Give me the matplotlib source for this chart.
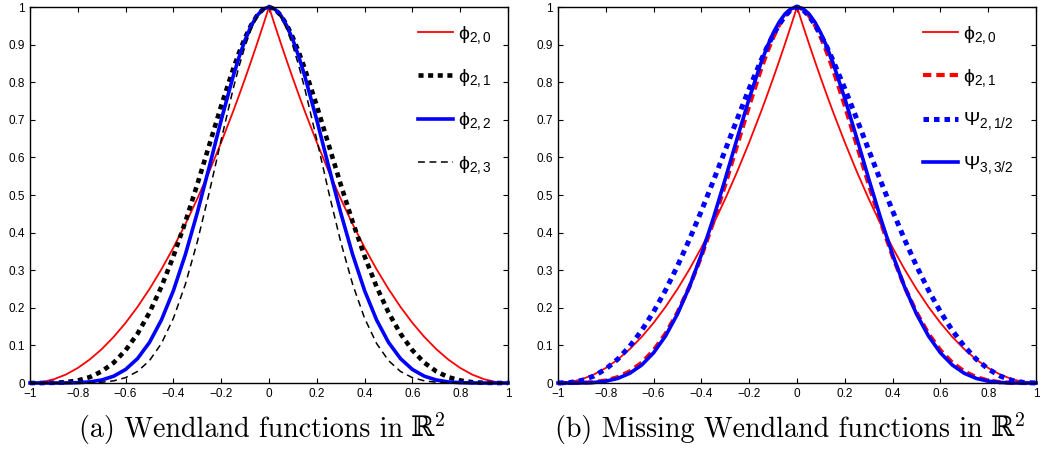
import numpy as np
import matplotlib
matplotlib.use("Agg")
import matplotlib.pyplot as plt

# ---------------- data ----------------
x = [-1, -.95, -.9, -.85, -.8, -.75, -.7, -.65, -.6, -.55, -.5, -.45, -.4, -.35, -.3, -.25, -.2, -.15,
     -.125, -.1, -.075, -.05, -.025, 0, .025, .05, .075, .1, .125,
     .15, .2, .25, .3, .35, .4, .45, .5, .55, .6, .65, .7, .75, .8, .85, .9, .95, 1]

phi20 = [0, .0025, .01, .0225, .04, .0625, .09, .1225, .16, .2025, .25, .3025, .36, .4225, .49, .5625, .64, .7225,
         .7656, .81, .8556, .9025, .9506, 1, .9506, .9025, .8556, .81, .7656,
         .7225, .64, .5625, .49, .4225, .36, .3025, .25, .2025, .16, .1225, .09, .0625, .04, .0225, .01, .0025, 0]
phi21 = [0, .0000, .0005, .0022, .0067, .0156, .0308, .0540, .0870, .1312, .1875, .2562, .3370, .4284, .5282, .6328, .7373, .8352,
         .8793, .9185, .9517, .9774, .9941, 1, .9941, .9774, .9517, .9185, .8793,
         .8352, .7373, .6328, .5282, .4284, .3370, .2562, .1875, .1312, .0870, .0540, .0308, .0156, .0067, .0022, .0005, .0000, 0]
phi22 = [0, 0, 0, .0002, .0009, .0029, .0080, .0181, .0360, .0650, .1081, .1678, .2457, .3416, .4530, .5747, .6991, .8156,
         .8672, .9123, .9494, .9771, .9942, 1, .9942, .9771, .9494, .9123, .8672,
         .8156, .6991, .5747, .4530, .3416, .2457, .1678, .1081, .0650, .0360, .0181, .0080, .0029, .0009, .0002, 0, 0, 0]
phi23 = [0, 0, 0, 0, .0001, .0005, .0020, .0058, .0142, .0308, .0596, .1053, .1721, .2624, .3755, .5068, .6469, .7822,
         .8429, .8962, .9401, .9729, .9932, 1, .9932, .9729, .9401, .8962, .8429,
         .7822, .6469, .5068, .3755, .2624, .1721, .1053, .0596, .0308, .0142, .0058, .0020, .0005, .0001, 0, 0, 0, 0]
psi2_half = [0, .0012, .0069, .0185, .0372, .0634, .0975, .1396, .1895, .2469, .3113, .3819, .4577, .5375, .6197, .7024, .7831, .8587,
             .8934, .9251, .9530, .9761, .9927, 1, .9927, .9761, .9530, .9251, .8934,
             .8587, .7831, .7024, .6197, .5375, .4577, .3819, .3113, .2469, .1895, .1396, .0975, .0634, .0372, .0185, .0069, .0012, 0]
psi3_3half = [0, 0, .0002, .0014, .0048, .0122, .0258, .0477, .0803, .1251, .1836, .2559, .3414, .4383, .5431, .6513, .7568, .8524,
              .8940, .9301, .9596, .9817, .9953, 1, .9953, .9817, .9596, .9301, .8940,
              .8524, .7568, .6513, .5431, .4383, .3414, .2559, .1836, .1251, .0803, .0477, .0258, .0122, .0048, .0014, .0002, 0, 0]

xticks = [-1, -0.8, -0.6, -0.4, -0.2, 0, 0.2, 0.4, 0.6, 0.8, 1]
xticklabels = ['\u22121', '\u22120.8', '\u22120.6', '\u22120.4', '\u22120.2', '0', '0.2', '0.4', '0.6', '0.8', '1']
yticks = [0, 0.1, 0.2, 0.3, 0.4, 0.5, 0.6, 0.7, 0.8, 0.9, 1]
yticklabels = ['0', '0.1', '0.2', '0.3', '0.4', '0.5', '0.6', '0.7', '0.8', '0.9', '1']

labels_a = ['\u03d5$_{2,0}$', '\u03d5$_{2,1}$', '\u03d5$_{2,2}$', '\u03d5$_{2,3}$']
labels_b = ['\u03d5$_{2,0}$', '\u03d5$_{2,1}$', '\u03a8$_{2,1/2}$', '\u03a8$_{3,3/2}$']
captions = ['(a) Wendland functions in', '(b) Missing Wendland functions in']
caption_space = '\u211d$^2$'

# ---------------- style ----------------
plt.rcParams['font.family'] = ['Liberation Sans', 'DejaVu Sans']
plt.rcParams['mathtext.fontset'] = 'custom'
plt.rcParams['mathtext.rm'] = 'Liberation Sans'
plt.rcParams['mathtext.it'] = 'Liberation Sans'
plt.rcParams['mathtext.bf'] = 'Liberation Sans'

W, H = 1043, 449
fig = plt.figure(figsize=(W / 100, H / 100), dpi=100)

def make_axes(left, right, top=7, bottom=383):
    ax = fig.add_axes([left / W, (H - bottom) / H, (right - left) / W, (bottom - top) / H])
    ax.set_xlim(-1, 1)
    ax.set_ylim(0, 1)
    ax.set_xticks(xticks)
    ax.set_xticklabels(xticklabels)
    ax.set_yticks(yticks)
    ax.set_yticklabels(yticklabels)
    ax.tick_params(direction='in', length=3.5, width=0.8, labelsize=8.5,
                   top=True, right=True, pad=3.5)
    for s in ax.spines.values():
        s.set_linewidth(1.0)
    return ax

ax1 = make_axes(30, 508)
ax2 = make_axes(558, 1036)

l = []
l.append(ax1.plot(x, phi20, color='red', lw=1.3, clip_on=False)[0])
l.append(ax1.plot(x, phi21, color='black', lw=3.3, ls=(0, (1.1, 1.0)), dash_capstyle='butt', clip_on=False)[0])
l.append(ax1.plot(x, phi22, color='blue', lw=2.6, clip_on=False)[0])
l.append(ax1.plot(x, phi23, color='black', lw=1.1, ls=(0, (4.5, 3.0)), clip_on=False)[0])

m = []
m.append(ax2.plot(x, phi20, color='red', lw=1.3, clip_on=False)[0])
m.append(ax2.plot(x, phi21, color='red', lw=3.0, ls=(0, (2.0, 1.2)), clip_on=False)[0])
m.append(ax2.plot(x, psi2_half, color='blue', lw=3.6, ls=(0, (1.1, 1.0)), clip_on=False)[0])
m.append(ax2.plot(x, psi3_3half, color='blue', lw=2.6, clip_on=False)[0])

leg_kw = dict(frameon=False, fontsize=14, handlelength=1.8, handletextpad=0.25,
              labelspacing=1.1, borderpad=0, borderaxespad=0, loc='upper left')
ax1.legend(l, labels_a, bbox_to_anchor=(0.812, 0.955), **leg_kw)
ax2.legend(m, labels_b, bbox_to_anchor=(0.764, 0.955), **leg_kw)

# captions: CM text + double-struck R with superscript
baseline_px = 437
cap_fs = 20.2
pairs = []
for ax, cap in zip([ax1, ax2], captions):
    t1 = fig.text(0, (H - baseline_px) / H, cap, ha='left', va='baseline',
                  fontsize=cap_fs, family='cmr10')
    t2 = fig.text(0, (H - baseline_px) / H, caption_space, ha='left', va='baseline',
                  fontsize=cap_fs, family='DejaVu Serif', math_fontfamily='cm')
    pairs.append((ax, t1, t2))

fig.canvas.draw()
r = fig.canvas.get_renderer()
gap = 7
shift = -7
for ax, t1, t2 in pairs:
    bb = ax.get_position()
    center = (bb.x0 + bb.x1) / 2 * W + shift
    w1 = t1.get_window_extent(r).width
    w2 = t2.get_window_extent(r).width
    start = center - (w1 + gap + w2) / 2
    t1.set_x(start / W)
    t2.set_x((start + w1 + gap) / W)

fig.savefig('out.png', dpi=100)
